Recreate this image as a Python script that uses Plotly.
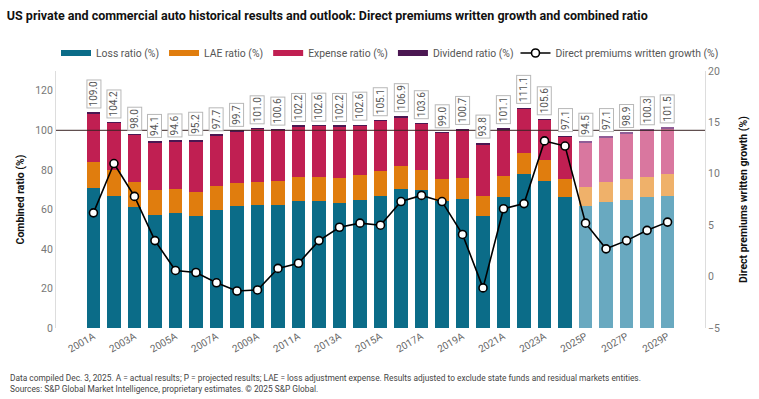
import plotly.graph_objects as go

years = ["2001A","2002A","2003A","2004A","2005A","2006A","2007A","2008A","2009A","2010A",
         "2011A","2012A","2013A","2014A","2015A","2016A","2017A","2018A","2019A","2020A",
         "2021A","2022A","2023A","2024A","2025P","2026P","2027P","2028P","2029P"]
loss_ratio = [70.9,66.7,61.3,57.2,58.0,56.8,59.6,61.6,62.1,62.1,
              64.0,64.0,63.3,64.5,67.0,70.1,70.0,64.1,65.3,56.5,
              66.4,77.7,74.3,66.4,61.9,63.6,65.0,66.2,67.0]
lae_ratio = [13.3,13.0,12.5,12.4,12.2,12.1,12.0,12.0,12.0,12.2,
             12.2,12.5,12.7,12.7,12.6,11.8,9.7,11.1,10.7,10.5,
             10.4,10.7,10.5,9.1,9.5,10.2,10.2,10.3,10.7]
dividend_ratio = [0.3,0.3,0.3,0.3,0.3,1.0,0.3,0.3,0.3,0.3,
                  0.3,0.3,0.3,0.3,0.3,0.3,0.3,0.3,0.6,1.0,
                  0.5,0.3,0.3,0.3,0.5,0.5,0.5,0.4,0.5]
combined_ratio = [109.0,104.2,98.0,94.1,94.6,95.2,97.7,99.7,101.0,100.6,
                  102.2,102.6,102.2,102.6,105.1,106.9,103.6,99.0,100.7,93.8,
                  101.1,111.1,105.6,97.1,94.5,97.1,98.9,100.3,101.5]
expense_ratio = [round(c - l - a - d, 1) for c, l, a, d in
                 zip(combined_ratio, loss_ratio, lae_ratio, dividend_ratio)]
dpw_growth = [6.2,11.0,7.8,3.5,0.6,0.4,-0.6,-1.4,-1.3,0.8,
              1.3,3.5,4.8,5.2,5.0,7.3,7.9,7.3,4.1,-1.1,
              6.6,7.1,13.2,12.7,5.2,2.7,3.5,4.5,5.3]
tick_labels = years[::2]

FONT = "Roboto"
proj = [y.endswith("P") for y in years]

def cols(actual, projected):
    return [projected if p else actual for p in proj]

fig = go.Figure()
series = [
    ("Loss ratio (%)", loss_ratio, "#0b6c88", "#69a9c0"),
    ("LAE ratio (%)", lae_ratio, "#e07d0e", "#efb16a"),
    ("Expense ratio (%)", expense_ratio, "#c01f52", "#d9779f"),
    ("Dividend ratio (%)", dividend_ratio, "#4b1752", "#8f5d96"),
]
for name, vals, c1, c2 in series:
    fig.add_trace(go.Bar(x=years, y=vals, name=name,
                         marker=dict(color=cols(c1, c2), line=dict(width=0)),
                         showlegend=False, hoverinfo="y"))
for name, vals, c1, c2 in series:
    fig.add_trace(go.Scatter(x=[None], y=[None], name=name, mode="lines",
                             line=dict(color=c1, width=6), showlegend=True, legend="legend"))

fig.add_trace(go.Scatter(x=years, y=dpw_growth, yaxis="y2", mode="lines+markers",
                         name="Direct premiums written growth (%)", legend="legend2",
                         line=dict(color="black", width=1.6),
                         marker=dict(size=8, color="white", line=dict(color="black", width=1.6))))

for x, v in zip(years, combined_ratio):
    fig.add_annotation(x=x, y=v, xref="x", yref="y", text=f"{v:.1f}", textangle=-90,
                       showarrow=False, yanchor="bottom", yshift=4,
                       font=dict(family=FONT, size=10, color="#555555"),
                       bgcolor="white", bordercolor="#b8b8b8", borderwidth=1, borderpad=1)

fig.add_shape(type="line", xref="paper", x0=0, x1=1, yref="y", y0=100, y1=100,
              line=dict(color="#3a2424", width=1), layer="above")

legend_font = dict(family=FONT, size=10.4, color="#555555")
fig.update_layout(
    width=759, height=399,
    margin=dict(l=56, r=46, t=71, b=71),
    barmode="stack", bargap=0.33,
    plot_bgcolor="white", paper_bgcolor="white",
    font=dict(family=FONT, color="#555555"),
    title=dict(text="<b>US private and commercial auto historical results and outlook: Direct premiums written growth and combined ratio</b>",
               x=0.009, xanchor="left", y=0.962, yanchor="middle",
               font=dict(family=FONT, size=12.5, color="#111111")),
    legend=dict(orientation="h", x=0.0, xanchor="left", y=1.07, yanchor="middle",
                font=legend_font, bgcolor="rgba(0,0,0,0)",
                itemwidth=30, traceorder="normal"),
    legend2=dict(orientation="h", x=0.708, xanchor="left", y=1.07, yanchor="middle",
                 font=legend_font, bgcolor="rgba(0,0,0,0)", itemwidth=30),
    xaxis=dict(tickmode="array", tickvals=tick_labels, ticktext=tick_labels, tickangle=-30,
               tickfont=dict(family=FONT, size=10, color="#666666"),
               showline=False, showgrid=False, ticks=""),
    yaxis=dict(range=[0, 130], tickvals=[0,20,40,60,80,100,120], showgrid=False,
               zeroline=False, showline=True, linecolor="#dddddd", linewidth=1,
               tickfont=dict(family=FONT, size=10.5, color="#777777"),
               title=dict(text="<b>Combined ratio (%)</b>", standoff=8,
                          font=dict(family=FONT, size=10.5, color="#111111"))),
    yaxis2=dict(range=[-5, 20], tickvals=[-5,0,5,10,15,20], overlaying="y", side="right",
                showgrid=False, zeroline=False, showline=True, linecolor="#dddddd", linewidth=1,
                tickfont=dict(family=FONT, size=10.5, color="#777777"),
                title=dict(text="<b>Direct premiums written growth (%)</b>", standoff=20,
                           font=dict(family=FONT, size=10.5, color="#111111"))),
)

fig.add_annotation(xref="paper", yref="paper", x=-0.0746, y=-0.167, xanchor="left", yanchor="top",
                   align="left", showarrow=False,
                   text="Data compiled Dec. 3, 2025. A = actual results; P = projected results; LAE = loss adjustment expense. Results adjusted to exclude state funds and residual markets entities.<br>Sources: S&P Global Market Intelligence, proprietary estimates. © 2025 S&P Global.",
                   font=dict(family=FONT, size=8.35, color="#444444"))

fig.write_html("out.html", config={"displayModeBar": False},
               post_script="document.body.style.margin='0px';")
